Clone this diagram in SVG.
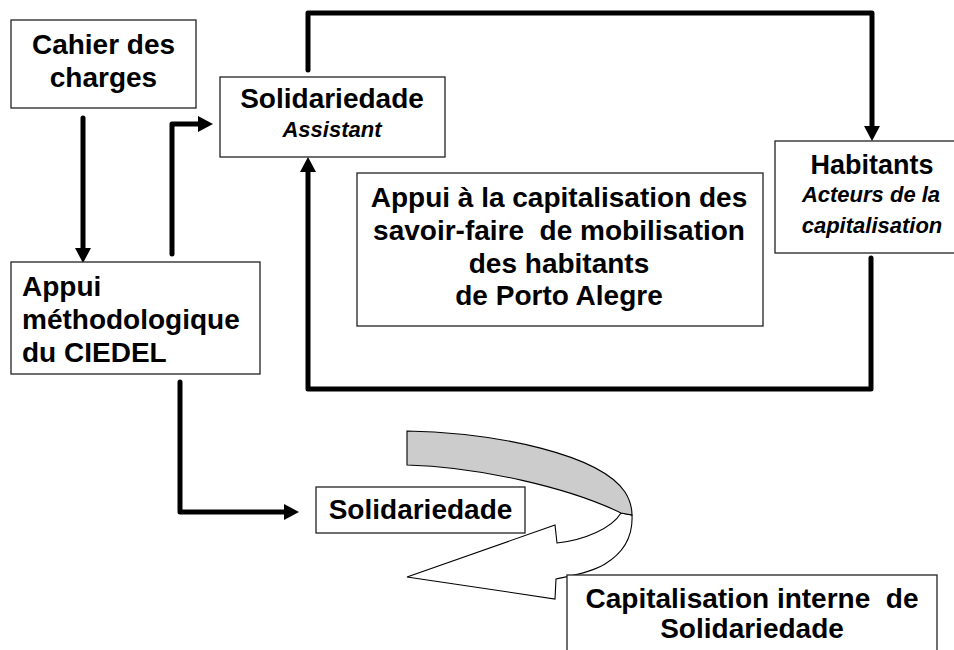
<svg xmlns="http://www.w3.org/2000/svg" width="954" height="650" viewBox="0 0 954 650">
<style>
.box{fill:#fff;stroke:#222;stroke-width:1.3}
.t{font-family:"Liberation Sans",Arial,sans-serif;font-weight:bold;font-size:28px;fill:#000}
.c{text-anchor:middle}
.i{font-style:italic;font-size:22px}
.conn{fill:none;stroke:#000;stroke-width:5;stroke-linejoin:round;stroke-linecap:round}
.ribbon{stroke:#000;stroke-width:1.1;stroke-linejoin:miter}
</style>
<defs>
<marker id="ah" markerUnits="userSpaceOnUse" markerWidth="15" markerHeight="17" refX="0" refY="8" orient="auto" overflow="visible">
<path d="M-1,0 L14,8 L-1,16 Z" fill="#000"/>
</marker>
</defs>
<g id="connectors">
<path class="conn" d="M83,118 L83,249" marker-end="url(#ah)"/>
<path class="conn" d="M172,254 L172,124 L199,124" marker-end="url(#ah)"/>
<path class="conn" d="M308,70 L308,13 L872,13 L872,127" marker-end="url(#ah)"/>
<path class="conn" d="M871,258 L871,389 L308,389 L308,171" marker-end="url(#ah)"/>
<path class="conn" d="M180,382 L180,512 L285,512" marker-end="url(#ah)"/>
</g>
<g id="cahier">
<rect class="box" x="11" y="20" width="185" height="88"/>
<text class="t c" x="103.5" y="54">Cahier des</text>
<text class="t c" x="103.5" y="87">charges</text>
</g>
<g id="solidariedade-assistant">
<rect class="box" x="220" y="77" width="225" height="80"/>
<text class="t c" x="332" y="108">Solidariedade</text>
<text class="t c i" x="332" y="137">Assistant</text>
</g>
<g id="habitants">
<rect class="box" x="775" y="141" width="200" height="112"/>
<text class="t c" x="872" y="174" style="font-size:27px">Habitants</text>
<text class="t c i" x="871" y="202">Acteurs de la</text>
<text class="t c i" x="872" y="233">capitalisation</text>
</g>
<g id="appui-capitalisation">
<rect class="box" x="357" y="173" width="406" height="153"/>
<text class="t c" x="559" y="207">Appui à la capitalisation des</text>
<text class="t c" x="559" y="240" xml:space="preserve">savoir-faire  de mobilisation</text>
<text class="t c" x="559" y="273">des habitants</text>
<text class="t c" x="559" y="305">de Porto Alegre</text>
</g>
<g id="appui-methodologique">
<rect class="box" x="11" y="262" width="249" height="112"/>
<text class="t" x="22" y="296">Appui</text>
<text class="t" x="22" y="329">méthodologique</text>
<text class="t" x="22" y="362">du CIEDEL</text>
</g>
<g id="solidariedade">
<rect class="box" x="316" y="487" width="209" height="46"/>
<text class="t c" x="420.5" y="519">Solidariedade</text>
</g>
<g id="curved-arrow">
<path class="ribbon" fill="#fff" d="M621,513 C612,528 585,540 557,543 L555,525 L407,577 L555,599 L556,579 C570,576 590,573 605,564 C625,552 633,535 632,515 Z"/>
<path class="ribbon" fill="#cccccc" d="M407,431 C500,433 600,455 625,492 C630,500 632,507 632,515 L621,513 C570,488 480,467 407,465 Z"/>
</g>
<g id="capitalisation-interne">
<rect class="box" x="567" y="575" width="370" height="100"/>
<text class="t c" x="752" y="608" xml:space="preserve">Capitalisation interne  de</text>
<text class="t c" x="752" y="638">Solidariedade</text>
</g>
</svg>
